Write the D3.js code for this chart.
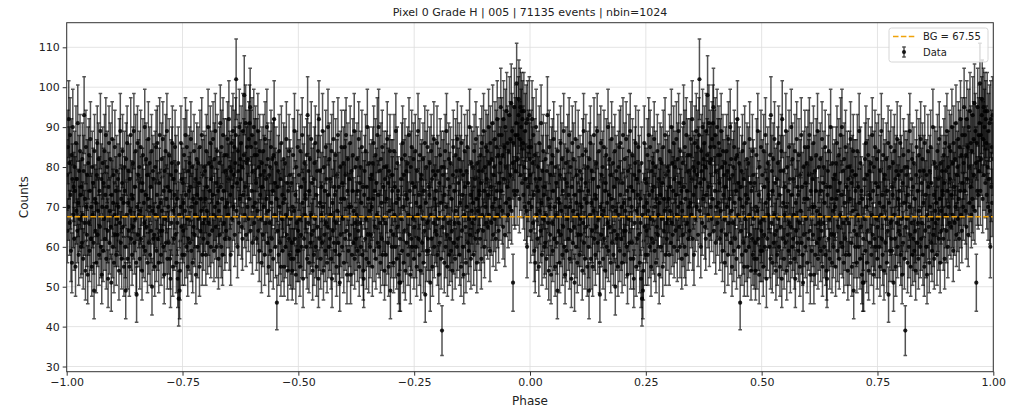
<!DOCTYPE html>
<meta charset="utf-8">
<style>
html,body{ margin:0; background:#fff; }
svg text{ font-family:"DejaVu Sans", sans-serif; fill:#222; }
.grid line{ stroke:#ddd; stroke-width:0.8px; }
.axis path{ display:none; }
.axis line{ stroke:#333; }
.axis text{ font-size:11px; }
</style>
<script src="https://cdnjs.cloudflare.com/ajax/libs/d3/7.8.5/d3.min.js"></script>
<body>
<script>

var titleText = "Pixel 0 Grade H | 005 | 71135 events | nbin=1024";
var bgLevel = 67.55;
var nbin = 1024;
var xTicks = [-1, -0.75, -0.5, -0.25, 0, 0.25, 0.5, 0.75, 1];
var yTicks = [30, 40, 50, 60, 70, 80, 90, 100, 110];

// counts per phase bin (0..1); the -1..0 half repeats them
var counts = [
  78,64,85,70,92,81,66,88,73,59,83,56,77,90,68,75,
  62,80,74,55,86,69,77,64,91,71,58,79,67,84,73,60,
  75,61,82,68,57,79,93,66,72,54,85,70,63,78,53,81,
  66,83,59,74,87,62,70,55,80,68,76,61,49,84,72,64,
  71,56,78,86,63,69,82,58,74,65,89,60,77,53,70,81,
  59,76,67,84,62,73,88,57,70,80,64,52,75,86,61,69,
  82,65,51,73,87,60,71,78,56,68,85,63,74,58,79,67,
  63,77,70,54,83,66,89,61,72,57,76,84,65,71,55,80,
  74,60,49,82,68,86,57,71,79,64,55,77,69,88,62,73,
  58,72,81,65,89,61,75,67,84,56,48,70,86,63,78,68,
  80,57,69,85,62,74,54,76,83,60,71,66,90,59,73,82,
  65,78,56,72,87,61,70,81,58,75,64,84,50,69,79,62,
  77,63,55,80,68,85,59,73,86,62,70,56,76,88,64,71,
  58,82,69,64,87,60,74,53,79,67,84,61,72,89,57,75,
  70,61,83,74,57,52,78,66,81,86,55,69,77,62,73,85,
  63,79,56,72,66,52,81,47,68,49,54,70,86,65,77,58,
  76,64,71,83,58,69,88,73,60,85,67,55,79,62,74,81,
  61,75,87,59,70,80,56,72,65,84,63,68,77,53,71,82,
  73,60,81,67,76,55,85,64,72,69,88,58,78,66,62,80,
  67,79,72,58,84,69,75,61,90,66,81,63,74,86,60,77,
  80,64,73,87,68,59,82,70,89,65,76,60,84,71,74,57,
  69,81,63,91,75,60,85,72,58,88,74,66,83,62,79,70,
  64,83,71,87,68,77,92,62,80,73,58,79,86,67,75,89,
  70,78,85,63,81,88,102,69,76,60,84,79,66,90,72,82,
  77,86,65,80,62,89,73,83,98,68,75,91,63,81,85,70,
  82,67,87,72,91,95,64,85,74,88,61,79,70,90,66,83,
  71,86,76,62,83,69,89,64,80,59,84,73,78,67,56,81,
  75,63,84,70,79,58,87,66,77,72,90,61,82,69,55,78,
  66,80,59,85,71,62,82,74,57,83,92,68,76,60,81,72,
  46,75,64,79,58,84,70,61,77,55,86,67,73,59,71,82,
  55,72,81,60,68,87,63,76,54,74,62,84,58,78,67,57,
  76,61,54,70,83,57,69,89,62,73,53,80,66,59,85,64,
  59,78,67,55,84,63,75,60,88,71,52,77,62,81,68,73,
  72,60,83,57,93,66,79,56,74,82,61,68,87,63,76,54,
  64,77,58,81,67,86,60,73,55,79,65,84,52,92,62,71,
  79,57,68,75,61,89,70,54,80,63,74,59,85,66,77,56,
  65,90,73,60,82,62,77,68,57,84,52,71,64,87,61,75,
  73,59,83,66,55,78,69,88,61,75,58,51,80,63,72,85,
  60,76,67,81,56,72,85,62,78,88,64,53,74,82,59,70,
  77,63,86,53,70,79,58,74,83,61,69,89,57,66,80,62,
  68,82,59,74,64,87,55,76,66,80,60,71,85,58,75,54,
  52,73,79,62,84,67,57,75,90,63,72,56,81,69,60,77,
  63,78,70,55,81,72,86,59,74,65,83,57,76,68,88,61,
  73,90,60,79,66,56,82,71,62,85,58,75,67,80,54,77,
  66,58,80,72,87,61,76,55,79,69,84,49,64,78,60,74,
  78,63,56,84,68,75,60,89,71,57,81,65,74,53,72,51,
  62,51,77,67,82,59,86,70,56,78,64,83,54,73,79,61,
  72,81,58,68,88,63,74,53,80,62,85,60,76,67,82,57,
  65,75,84,60,71,55,79,68,89,62,73,58,83,70,54,77,
  78,61,67,82,56,74,64,86,48,71,80,59,66,85,62,75,
  59,73,81,51,68,84,62,77,55,79,66,87,60,72,78,64,
  74,63,86,58,79,67,53,76,61,83,71,57,80,39,65,78,
  67,80,56,73,84,60,70,89,63,55,77,66,82,58,75,62,
  81,59,72,64,54,78,85,61,74,66,57,83,69,79,60,87,
  62,76,66,82,58,71,79,55,86,64,73,60,78,53,68,84,
  75,65,56,79,70,85,61,76,59,67,90,63,73,57,81,69,
  66,80,71,58,84,67,77,62,87,72,56,81,69,64,79,74,
  73,62,83,76,57,86,68,79,64,89,74,60,80,70,85,66,
  77,84,65,73,90,68,81,59,86,75,66,82,70,91,63,78,
  80,67,87,72,62,85,74,92,68,83,64,88,76,70,81,95,
  74,88,69,83,65,92,77,85,63,90,80,71,94,75,86,68,
  84,72,93,70,87,78,96,69,89,81,51,86,74,95,73,88,
  79,91,101,74,88,82,93,97,72,87,95,78,90,94,76,92,
  86,73,94,80,70,89,77,91,69,60,92,75,85,71,93,82
];

var W = 1016, H = 409;
var margin = {top: 22.7, right: 22.7, bottom: 37.3, left: 66.7};

var svg = d3.select("body").append("svg")
    .attr("width", W)
    .attr("height", H);

var x = d3.scaleLinear().domain([-1, 1]).range([margin.left, W - margin.right]);
var y = d3.scaleLinear().domain([28.7, 116.17]).range([H - margin.bottom, margin.top]);

// two cycles of the profile
var points = [];
[-1, 0].forEach(function(off){
  counts.forEach(function(c, i){
    points.push({phase: off + (i + 0.5) / nbin, c: c, e: Math.sqrt(c)});
  });
});

svg.append("defs").append("clipPath").attr("id", "clip")
  .append("rect")
    .attr("x", x(-1)).attr("y", y.range()[1])
    .attr("width", x(1) - x(-1)).attr("height", y.range()[0] - y.range()[1]);

// grid
var grid = svg.append("g").attr("class", "grid");
grid.selectAll(".gx").data(xTicks).enter().append("line")
    .attr("x1", x).attr("x2", x)
    .attr("y1", y.range()[1]).attr("y2", y.range()[0]);
grid.selectAll(".gy").data(yTicks).enter().append("line")
    .attr("x1", x(-1)).attr("x2", x(1))
    .attr("y1", y).attr("y2", y);

var plot = svg.append("g").attr("clip-path", "url(#clip)");

// error bars
var bars = plot.append("g")
    .attr("stroke", "#000")
    .attr("stroke-opacity", 0.68)
    .attr("stroke-width", 1.5);

bars.selectAll(".eb").data(points).enter().append("path")
    .attr("d", function(d){
      var px = x(d.phase), y0 = y(d.c - d.e), y1 = y(d.c + d.e);
      return "M" + px + "," + y0 + "V" + y1 +
             "M" + (px - 1.8) + "," + y0 + "H" + (px + 1.8) +
             "M" + (px - 1.8) + "," + y1 + "H" + (px + 1.8);
    })
    .attr("fill", "none");

plot.append("g").selectAll("circle").data(points).enter().append("circle")
    .attr("cx", function(d){ return x(d.phase); })
    .attr("cy", function(d){ return y(d.c); })
    .attr("r", 2.1)
    .attr("fill", "#000")
    .attr("fill-opacity", 0.85);

// background level
plot.append("line")
    .attr("x1", x(-1)).attr("x2", x(1))
    .attr("y1", y(bgLevel)).attr("y2", y(bgLevel))
    .attr("stroke", "#f0a20a")
    .attr("stroke-width", 1.4)
    .attr("stroke-dasharray", "5.5,2.4");

// axes
svg.append("g").attr("class", "axis")
    .attr("transform", "translate(0," + y.range()[0] + ")")
    .call(d3.axisBottom(x).tickValues(xTicks).tickSize(4).tickPadding(3)
      .tickFormat(function(d){ return d3.format(".2f")(d).replace("-", "\u2212"); }));

svg.append("g").attr("class", "axis")
    .attr("transform", "translate(" + x(-1) + ",0)")
    .call(d3.axisLeft(y).tickValues(yTicks).tickSize(4).tickPadding(3));

// frame
svg.append("rect")
    .attr("x", x(-1)).attr("y", y.range()[1])
    .attr("width", x(1) - x(-1)).attr("height", y.range()[0] - y.range()[1])
    .attr("fill", "none").attr("stroke", "#333").attr("stroke-width", 1);

// labels
svg.append("text")
    .attr("x", (x(-1) + x(1)) / 2).attr("y", 16)
    .attr("text-anchor", "middle").style("font-size", "11px")
    .text(titleText);

svg.append("text")
    .attr("x", (x(-1) + x(1)) / 2).attr("y", 405)
    .attr("text-anchor", "middle").style("font-size", "12px")
    .text("Phase");

svg.append("text")
    .attr("transform", "translate(28," + ((y.range()[0] + y.range()[1]) / 2) + ") rotate(-90)")
    .attr("text-anchor", "middle").style("font-size", "12px")
    .text("Counts");

// legend
var lg = svg.append("g").attr("transform", "translate(889,28)");
lg.append("rect")
    .attr("width", 99).attr("height", 34).attr("rx", 2.5)
    .attr("fill", "#fff").attr("fill-opacity", 0.8)
    .attr("stroke", "#ccc").attr("stroke-width", 0.8);
lg.append("line")
    .attr("x1", 4).attr("x2", 26).attr("y1", 8.5).attr("y2", 8.5)
    .attr("stroke", "#f0a20a").attr("stroke-width", 1.4)
    .attr("stroke-dasharray", "5.5,2.4");
lg.append("text").attr("x", 34).attr("y", 12).style("font-size", "10px").text("BG = " + bgLevel);
lg.append("path")
    .attr("d", "M15,19V29M13.2,19H16.8M13.2,29H16.8")
    .attr("stroke", "#000").attr("stroke-opacity", 0.68).attr("stroke-width", 1.5).attr("fill", "none");
lg.append("circle").attr("cx", 15).attr("cy", 24).attr("r", 2.1).attr("fill", "#000").attr("fill-opacity", 0.85);
lg.append("text").attr("x", 34).attr("y", 27.5).style("font-size", "10px").text("Data");

</script>
</body>
